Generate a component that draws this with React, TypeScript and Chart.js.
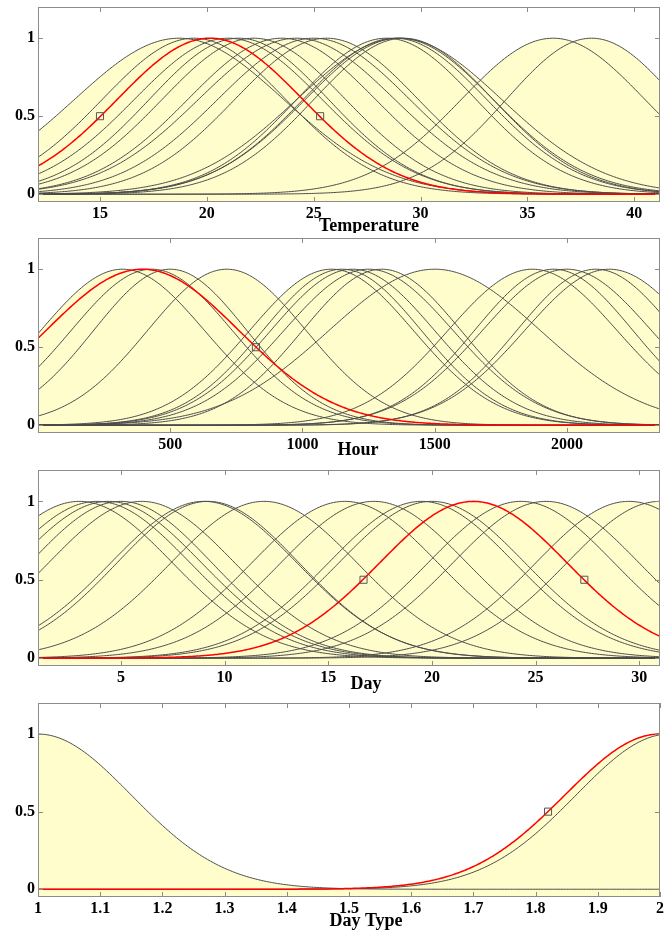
import React, { useEffect, useRef } from "react";
import { Chart, registerables } from "chart.js";

Chart.register(...registerables);

// ---------------- Data (Gaussian membership functions) ----------------
// Temperature
const temperatureCenters = [18.7, 19.4, 21.0, 21.5, 22.2, 23.5, 24.2, 25.0, 25.6, 28.4, 28.8, 29.0, 29.2, 29.0, 36.2, 38.0];
const temperatureWidths = [4.9, 4.3, 4.4, 4.2, 4.3, 4.4, 4.6, 4.5, 4.3, 4.2, 4.3, 4.4, 4.2, 4.8, 4.3, 4.0];
const temperatureSelectedCenter = 20.15;
const temperatureSelectedWidth = 4.35;
const temperatureMarkersX = [15.0, 25.3];
const temperatureTicks = [15, 20, 25, 30, 35, 40];
const temperatureRange = [12.1, 41.2];

// Hour
const hourCenters = [320, 430, 500, 714, 1110, 1150, 1190, 1250, 1300, 1500, 1870, 1950, 2000, 2110, 2160];
const hourWidths = [310, 305, 290, 300, 310, 300, 310, 320, 300, 400, 320, 300, 320, 300, 320];
const hourSelectedCenter = 395;
const hourSelectedWidth = 365;
const hourMarkersX = [824];
const hourTicks = [500, 1000, 1500, 2000];
const hourRange = [0, 2352];

// Day
const dayCenters = [3.0, 3.85, 4.4, 5.0, 6.0, 9.0, 9.2, 11.9, 15.8, 17.2, 19.5, 20.0, 24.3, 25.5, 29.5, 31.0];
const dayWidths = [4.5, 4.5, 4.5, 4.4, 4.5, 4.5, 4.4, 4.5, 4.5, 4.5, 4.5, 4.5, 4.5, 4.5, 4.5, 4.5];
const daySelectedCenter = 22.0;
const daySelectedWidth = 4.53;
const dayMarkersX = [16.7, 27.35];
const dayTicks = [5, 10, 15, 20, 25, 30];
const dayRange = [1, 31];

// Day Type
const dayTypeCenters = [1.0, 2.015];
const dayTypeWidths = [0.15, 0.15];
const dayTypeSelectedCenter = 2.0;
const dayTypeSelectedWidth = 0.153;
const dayTypeMarkersX = [1.82];
const dayTypeTicks = [1, 1.1, 1.2, 1.3, 1.4, 1.5, 1.6, 1.7, 1.8, 1.9, 2];
const dayTypeRange = [1, 2];

const markerLevel = 0.5;
const yTicks = [0, 0.5, 1];

// ---------------- Styling / layout ----------------
const YELLOW = "rgb(255,253,204)";
const LINE = "#4a4a4a";
const RED = "#ff0000";
const FRAME = "#8c8c8c";
const FONT = '"Liberation Serif", "Times New Roman", serif';

type Panel = {
  title: string;
  centers: number[];
  widths: number[];
  selC: number;
  selW: number;
  markers: number[];
  ticks: number[];
  range: number[];
  sliceTop: number;
  sliceBottom: number;
  areaTop: number;
  areaBottom: number;
  titleX: number;
  titleY: number;
};

const panels: Panel[] = [
  {
    title: "Temperature", centers: temperatureCenters, widths: temperatureWidths,
    selC: temperatureSelectedCenter, selW: temperatureSelectedWidth, markers: temperatureMarkersX,
    ticks: temperatureTicks, range: temperatureRange,
    sliceTop: 0, sliceBottom: 233, areaTop: 7, areaBottom: 202, titleX: 369, titleY: 226,
  },
  {
    title: "Hour", centers: hourCenters, widths: hourWidths,
    selC: hourSelectedCenter, selW: hourSelectedWidth, markers: hourMarkersX,
    ticks: hourTicks, range: hourRange,
    sliceTop: 233, sliceBottom: 466, areaTop: 238, areaBottom: 433, titleX: 358, titleY: 450,
  },
  {
    title: "Day", centers: dayCenters, widths: dayWidths,
    selC: daySelectedCenter, selW: daySelectedWidth, markers: dayMarkersX,
    ticks: dayTicks, range: dayRange,
    sliceTop: 466, sliceBottom: 698, areaTop: 470, areaBottom: 666, titleX: 366, titleY: 684,
  },
  {
    title: "Day Type", centers: dayTypeCenters, widths: dayTypeWidths,
    selC: dayTypeSelectedCenter, selW: dayTypeSelectedWidth, markers: dayTypeMarkersX,
    ticks: dayTypeTicks, range: dayTypeRange,
    sliceTop: 698, sliceBottom: 931, areaTop: 703, areaBottom: 897, titleX: 366, titleY: 921,
  },
];

const SAMPLES = 400;

function membership(c: number, s: number, min: number, max: number) {
  const pts: { x: number; y: number }[] = [];
  for (let i = 0; i <= SAMPLES; i++) {
    const x = min + ((max - min) * i) / SAMPLES;
    pts.push({ x, y: Math.exp(-((x - c) * (x - c)) / (2 * s * s)) });
  }
  return pts;
}

function PanelChart({ p }: { p: Panel }) {
  const ref = useRef<HTMLCanvasElement | null>(null);
  const height = p.sliceBottom - p.sliceTop;

  useEffect(() => {
    if (!ref.current) return;
    const [min, max] = p.range;
    const datasets: any[] = [];
    datasets.push({
      data: p.markers.map((x) => ({ x, y: markerLevel })),
      showLine: false,
      fill: false,
      pointStyle: "rect",
      pointRadius: 5,
      pointBorderColor: "#555555",
      pointBackgroundColor: "rgba(0,0,0,0)",
      pointBorderWidth: 1,
      order: -2,
    });
    datasets.push({
      data: membership(p.selC, p.selW, min, max),
      borderColor: RED,
      borderWidth: 1.5,
      backgroundColor: YELLOW,
      fill: "start",
      pointRadius: 0,
      order: -1,
    });
    p.centers.forEach((c, i) => {
      datasets.push({
        data: membership(c, p.widths[i], min, max),
        borderColor: LINE,
        borderWidth: 1,
        backgroundColor: YELLOW,
        fill: "start",
        pointRadius: 0,
        order: 0,
      });
    });

    const frame = {
      id: "frame",
      afterDatasetsDraw(chart: any) {
        const { ctx, chartArea: a, scales } = chart;
        ctx.save();
        ctx.strokeStyle = FRAME;
        ctx.lineWidth = 1;
        ctx.beginPath();
        p.ticks.forEach((v) => {
          const px = Math.round(scales.x.getPixelForValue(v)) + 0.5;
          ctx.moveTo(px, a.top);
          ctx.lineTo(px, a.top + 5);
          ctx.moveTo(px, a.bottom);
          ctx.lineTo(px, a.bottom - 5);
        });
        yTicks.forEach((v) => {
          const py = Math.round(scales.y.getPixelForValue(v)) + 0.5;
          ctx.moveTo(a.left, py);
          ctx.lineTo(a.left + 5, py);
          ctx.moveTo(a.right, py);
          ctx.lineTo(a.right - 5, py);
        });
        ctx.stroke();
        ctx.strokeRect(a.left + 0.5, a.top + 0.5, a.right - a.left - 1, a.bottom - a.top - 1);
        ctx.fillStyle = "#000";
        ctx.font = `bold 18px ${FONT}`;
        ctx.textAlign = "center";
        ctx.textBaseline = "middle";
        ctx.fillText(p.title, p.titleX, p.titleY - p.sliceTop);
        ctx.restore();
      },
    };

    const tickFont = { family: FONT, size: 16, weight: "bold" as const };

    const chart = new Chart(ref.current, {
      type: "line",
      data: { datasets },
      options: {
        animation: false,
        responsive: false,
        events: [],
        layout: {
          autoPadding: false,
          padding: { top: p.areaTop - p.sliceTop, right: 10, bottom: 0, left: 0 },
        },
        plugins: {
          legend: { display: false },
          tooltip: { enabled: false },
          filler: { drawTime: "beforeDatasetsDraw", propagate: false },
        },
        scales: {
          x: {
            type: "linear",
            min,
            max,
            grid: { display: false, drawTicks: false },
            border: { display: false },
            ticks: {
              color: "#000",
              font: tickFont,
              padding: 2,
              maxRotation: 0,
              autoSkip: false,
              callback: (v: any) => String(v),
            },
            afterBuildTicks: (s: any) => {
              s.ticks = p.ticks.map((v) => ({ value: v }));
            },
            afterFit: (s: any) => {
              s.height = p.sliceBottom - p.areaBottom;
              s.paddingLeft = 0;
              s.paddingRight = 0;
            },
          },
          y: {
            type: "linear",
            min: -0.05,
            max: 1.2,
            grid: { display: false, drawTicks: false },
            border: { display: false },
            ticks: {
              color: "#000",
              font: tickFont,
              padding: 3,
              autoSkip: false,
              callback: (v: any) => String(v),
            },
            afterBuildTicks: (s: any) => {
              s.ticks = yTicks.map((v) => ({ value: v }));
            },
            afterFit: (s: any) => {
              s.width = 38;
              s.paddingTop = 0;
              s.paddingBottom = 0;
            },
          },
        },
      } as any,
      plugins: [frame],
    });
    return () => chart.destroy();
  }, [p]);

  return (
    <canvas
      ref={ref}
      width={670}
      height={height}
      style={{ position: "absolute", left: 0, top: p.sliceTop, width: 670, height, display: "block" }}
    />
  );
}

export default function App() {
  return (
    <div style={{ position: "absolute", left: 0, top: 0, width: 670, height: 931, background: "#fff" }}>
      {panels.map((p) => (
        <PanelChart key={p.title} p={p} />
      ))}
    </div>
  );
}
